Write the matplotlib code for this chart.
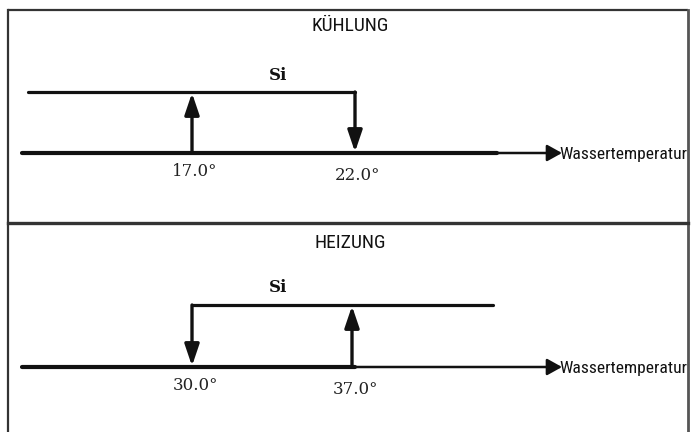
import matplotlib
matplotlib.use("Agg")
import matplotlib.pyplot as plt
from matplotlib import font_manager

# ---- data ----
panel_titles = ["KÜHLUNG", "HEIZUNG"]
cool_thresholds = [17.0, 22.0]   # on at 17.0 (up), off at 22.0 (down)
heat_thresholds = [30.0, 37.0]   # on at 30.0 (down), off at 37.0 (up)
state_label = "Si"
axis_label = "Wassertemperatur"

names = {f.name for f in font_manager.fontManager.ttflist}
narrow = None
for cand in ["Liberation Sans Narrow", "Roboto Condensed", "Open Sans Condensed", "Roboto"]:
    if cand in names:
        narrow = cand
        break
sans = [narrow, "DejaVu Sans"] if narrow else ["DejaVu Sans"]

W, H = 700, 432
fig = plt.figure(figsize=(7.0, 4.32), dpi=100)
fa = fig.add_axes([0, 0, 1, 1])
fa.set_xlim(0, W)
fa.set_ylim(H, 0)
fa.axis("off")

border = "#333333"
# frame
fa.plot([8, 688], [9.5, 9.5], color=border, lw=1.6, solid_capstyle="butt")
fa.plot([8, 8], [9.5, H], color=border, lw=1.6)
fa.plot([688, 688], [9.5, H], color="#555555", lw=2.0)
fa.plot([8, 688], [223, 223], color=border, lw=2.4)


def panel(thr, pix, title, title_y, base_y, top_y, top_span, thick_end, up_first):
    # temperature axis calibrated so thresholds land at measured pixels
    pa = fig.add_axes([0, 0, 1, 1], facecolor="none")
    (t0, t1), (p0, p1) = thr, pix
    b = (p1 - p0) / (t1 - t0)
    a = p0 - t0 * b
    pa.set_xlim((0 - a) / b, (W - a) / b)
    pa.set_ylim(H, 0)
    pa.axis("off")
    px2t = lambda p: (p - a) / b

    fa.text(350, title_y, title, ha="center", va="center", fontsize=14,
            family=sans, color="#111111")
    # base line
    pa.plot([px2t(22), px2t(thick_end)], [base_y, base_y], color="#111111",
            lw=3.0, solid_capstyle="round")
    pa.annotate("", xy=(px2t(562), base_y), xytext=(px2t(thick_end - 2), base_y),
                arrowprops=dict(arrowstyle="-|>,head_length=0.45,head_width=0.25",
                                color="#111111", lw=1.8, mutation_scale=20,
                                shrinkA=0, shrinkB=0))
    fa.text(559, base_y + 1, axis_label, ha="left", va="center", fontsize=12.6,
            family=sans, color="#111111")
    # upper "Si" line
    pa.plot([px2t(top_span[0]), px2t(top_span[1])], [top_y, top_y],
            color="#111111", lw=2.3, solid_capstyle="round")
    fa.text(278, top_y - 17, state_label, ha="center", va="center",
            fontsize=12, family="DejaVu Serif", fontweight="bold", color="#111111")
    # switching arrows
    for i, T in enumerate(thr):
        up = (i == 0) == up_first
        start, end = (base_y, top_y + 1) if up else (top_y, base_y - 1)
        pa.annotate("", xy=(T, end), xytext=(T, start),
                    arrowprops=dict(arrowstyle="-|>,head_length=0.65,head_width=0.22",
                                    color="#111111", lw=2.4, mutation_scale=20,
                                    shrinkA=0, shrinkB=0))
        pa.text(T + px2t(3) - px2t(0), base_y + 18 + 5 * i, f"{T:.1f}°",
                ha="center", va="center", fontsize=12, family="DejaVu Serif",
                color="#222222")


panel(cool_thresholds, (192, 355), panel_titles[0], 26, 153, 92,
      (28, 355), 497, up_first=True)
panel(heat_thresholds, (192, 352), panel_titles[1], 243, 367, 305,
      (192, 493), 355, up_first=False)

fig.savefig("out.png", dpi=100)
